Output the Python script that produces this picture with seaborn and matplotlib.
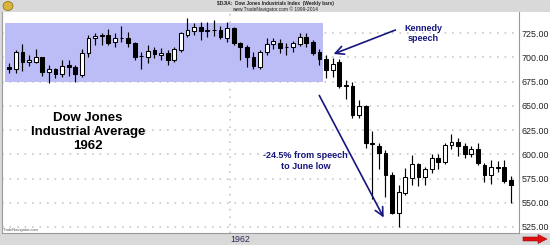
import numpy as np
import pandas as pd
import matplotlib
matplotlib.use("Agg")
import matplotlib.pyplot as plt
import matplotlib.dates as mdates
from matplotlib.patches import Rectangle, FancyArrow, Ellipse
import seaborn as sns

# ---------------- data (weekly bars, DJIA) ----------------
first_week = "1961-05-12"
opens = [689.9, 688.1, 705.4, 695.7, 695.7, 700.2, 685.3, 687.8, 683.0, 692.3,
         689.9, 681.9, 704.3, 719.8, 722.5, 723.2, 716.3, 720.3, 719.8, 715.3,
         701.2, 700.8, 707.7, 702.6, 705.0, 697.4, 707.7, 723.2, 727.7, 731.8,
         727.7, 728.0, 728.4, 719.8, 730.2, 714.7, 711.2, 700.2, 690.5, 706.0,
         713.6, 715.3, 710.5, 710.5, 714.0, 720.9, 716.3, 706.0, 698.1, 687.1,
         695.3, 671.3, 670.6, 640.6, 649.9, 611.3, 608.6, 601.6, 578.1, 539.3,
         560.5, 575.7, 590.3, 576.9, 584.5, 595.9, 592.0, 609.6, 613.0, 608.6,
         600.3, 605.2, 589.0, 578.6, 586.3, 586.4, 573.0]
highs = [694.0, 707.7, 713.6, 702.6, 708.5, 700.8, 692.3, 688.8, 697.4, 697.4,
         692.3, 708.5, 723.2, 725.0, 725.6, 729.0, 725.0, 732.5, 726.6, 716.3,
         706.0, 712.9, 711.2, 709.5, 707.7, 711.2, 726.6, 740.5, 736.0, 737.0,
         737.0, 738.7, 732.5, 737.0, 731.8, 716.3, 712.9, 706.0, 707.7, 719.8,
         719.8, 718.8, 715.3, 717.4, 725.6, 725.0, 718.1, 708.5, 702.6, 699.2,
         698.4, 676.8, 675.0, 656.4, 650.9, 624.1, 611.7, 604.7, 581.2, 567.8,
         586.0, 598.8, 590.7, 586.6, 600.3, 599.8, 612.0, 621.0, 616.5, 612.0,
         608.6, 611.4, 591.3, 594.1, 593.4, 594.1, 577.6]
lows = [684.3, 684.3, 686.1, 691.2, 694.0, 680.9, 673.3, 678.5, 679.5, 680.9,
        675.0, 679.5, 700.8, 712.9, 712.9, 712.9, 711.2, 716.3, 711.2, 697.4,
        688.1, 694.0, 699.2, 697.4, 692.3, 695.7, 706.0, 721.5, 723.2, 718.1,
        721.5, 722.2, 718.8, 716.3, 712.9, 697.4, 690.5, 687.8, 687.8, 702.6,
        708.5, 704.3, 702.6, 706.0, 711.9, 711.2, 702.6, 692.3, 678.5, 680.0,
        668.2, 657.0, 638.0, 637.2, 606.2, 553.8, 584.3, 556.2, 538.3, 524.9,
        558.0, 568.8, 567.2, 568.3, 580.4, 584.3, 590.0, 605.2, 598.2, 595.9,
        597.5, 589.0, 571.7, 569.3, 582.0, 570.0, 549.4]
closes = [687.8, 705.4, 695.7, 697.4, 700.2, 685.3, 687.8, 683.0, 691.5, 690.2,
          683.0, 704.3, 719.8, 722.2, 723.5, 715.3, 720.5, 719.8, 714.7, 700.8,
          701.8, 707.0, 703.3, 705.0, 697.4, 708.5, 725.0, 728.4, 731.2, 727.7,
          728.2, 728.6, 720.9, 730.2, 714.7, 711.2, 700.2, 691.2, 706.0, 714.0,
          717.4, 709.5, 711.2, 714.7, 721.5, 715.3, 705.0, 698.1, 686.6, 693.3,
          670.6, 670.5, 640.6, 649.9, 612.0, 610.5, 601.6, 578.6, 539.3, 561.4,
          576.2, 590.3, 576.9, 584.5, 595.9, 592.3, 609.6, 613.2, 608.6, 600.8,
          605.2, 591.0, 578.6, 586.6, 587.0, 572.7, 568.8]
y_ticks = [525, 550, 575, 600, 625, 650, 675, 700, 725]
year_label = "1962"
year_start = "1962-01-01"
band_low, band_high = 675.0, 735.3

# ---------------- style ----------------
sns.set_theme(style="white")
plt.rcParams['font.family'] = ['Liberation Sans', 'DejaVu Sans']

W, H = 550, 245
fig = plt.figure(figsize=(W / 100, H / 100), dpi=100, facecolor="#D9D9D9")
ax = fig.add_axes([2 / W, 12 / H, 517 / W, 221 / H])
ax.set_facecolor("white")

df = pd.DataFrame({"date": pd.date_range(first_week, periods=len(opens), freq="7D"),
                   "open": opens, "high": highs, "low": lows, "close": closes})
x = mdates.date2num(df["date"])
wk = 7.0

# highlight band of the pre-speech range
ax.add_patch(Rectangle((x[0] - 0.65 * wk, band_low), (47.5 + 0.65) * wk,
                       band_high - band_low, facecolor="#BCBCF7",
                       edgecolor="none", zorder=1))

# wicks
ax.vlines(x, df["low"], df["high"], color="black", lw=0.85, zorder=3)
# bodies
body_lo = np.minimum(df["open"], df["close"])
body_h = np.maximum(np.abs(df["close"] - df["open"]), 0.6)
face = np.where(df["close"] >= df["open"], "white", "black")
ax.bar(x, body_h, bottom=body_lo, width=0.6 * wk, color=face,
       edgecolor="black", linewidth=0.75, zorder=4)

# axes ranges
ax.set_xlim(x[0] - 1.106 * wk, x[0] + 77.23 * wk)
ax.set_ylim(518.7, 747.0)

# grid
grid_kw = dict(color="#C8C8C8", lw=1.2, ls=(0, (1, 3.5)), zorder=0)
for yv in y_ticks:
    ax.axhline(yv, **grid_kw)
jan = mdates.date2num(pd.Timestamp(year_start))
ax.axvline(jan, **grid_kw)

# ticks
ax.yaxis.tick_right()
ax.set_yticks(y_ticks)
ax.set_yticklabels([f"{v:.2f}" for v in y_ticks])
ax.tick_params(axis="y", length=0, pad=2, labelsize=6.4, labelcolor="#222222")
ax.set_xticks([jan])
ax.set_xticklabels([year_label], ha="left")
ax.tick_params(axis="x", length=0, pad=1.5, labelsize=6.4, labelcolor="#2A2A55")

ax.spines["top"].set_visible(False)
for s in ["left", "right", "bottom"]:
    ax.spines[s].set_color("#9A9A9A")
    ax.spines[s].set_linewidth(0.8)

# white panel behind the price labels
fig.patches.append(Rectangle((519 / W, 12 / H), 31 / W, 221 / H, transform=fig.transFigure,
                             facecolor="white", edgecolor="none", zorder=-1))

def fx(px):
    return px / W

def fy(py):
    return 1 - py / H

# header texts
fig.text(fx(275), fy(4), r"\$DJIA:  Dow Jones Industrials Index  (Weekly bars)", ha="center",
         va="center", fontsize=3.4, fontweight="bold", color="#222222")
fig.text(fx(275), fy(9.5), "www.TradeNavigator.com © 1999-2014", ha="center",
         va="center", fontsize=3.5, color="#222222")
fig.patches.append(Ellipse((fx(8), fy(6)), 10 / W, 9 / H, transform=fig.transFigure,
                           facecolor="#D8B43A", edgecolor="#8A6A10", lw=0.5))
fig.text(fx(2.5), fy(229.5), "TradeNavigator.com", ha="left", va="center",
         fontsize=2.9, color="#555555")

# main title
fig.text(fx(88), fy(132), "Dow Jones\nIndustrial Average\n1962", ha="center", va="center",
         fontsize=9.5, fontweight="bold", color="black", linespacing=1.18)

navy = "#16167E"
fig.text(fx(423), fy(33.5), "Kennedy\nspeech", ha="center", va="center",
         fontsize=6.5, fontweight="bold", color=navy, linespacing=1.15)
fig.text(fx(305.5), fy(161), "-24.5% from speech\nto June low", ha="center", va="center",
         fontsize=6.5, fontweight="bold", color=navy, linespacing=1.15)

ax.annotate("", xy=(331, H - 55), xytext=(398, H - 29), xycoords="figure pixels",
            textcoords="figure pixels",
            arrowprops=dict(arrowstyle="->,head_length=0.5,head_width=0.25", color=navy, lw=1.2))
ax.annotate("", xy=(385, H - 220), xytext=(318, H - 93), xycoords="figure pixels",
            textcoords="figure pixels",
            arrowprops=dict(arrowstyle="->,head_length=0.5,head_width=0.25", color=navy, lw=1.2))

# red arrow at bottom right
fig.patches.append(FancyArrow(fx(523), fy(239), 24 / W, 0, width=4 / H, head_width=9 / H,
                              head_length=9 / W, length_includes_head=True,
                              transform=fig.transFigure, facecolor="#E01010",
                              edgecolor="#901010", lw=0.4))

fig.savefig("out.png", dpi=100, facecolor=fig.get_facecolor())
